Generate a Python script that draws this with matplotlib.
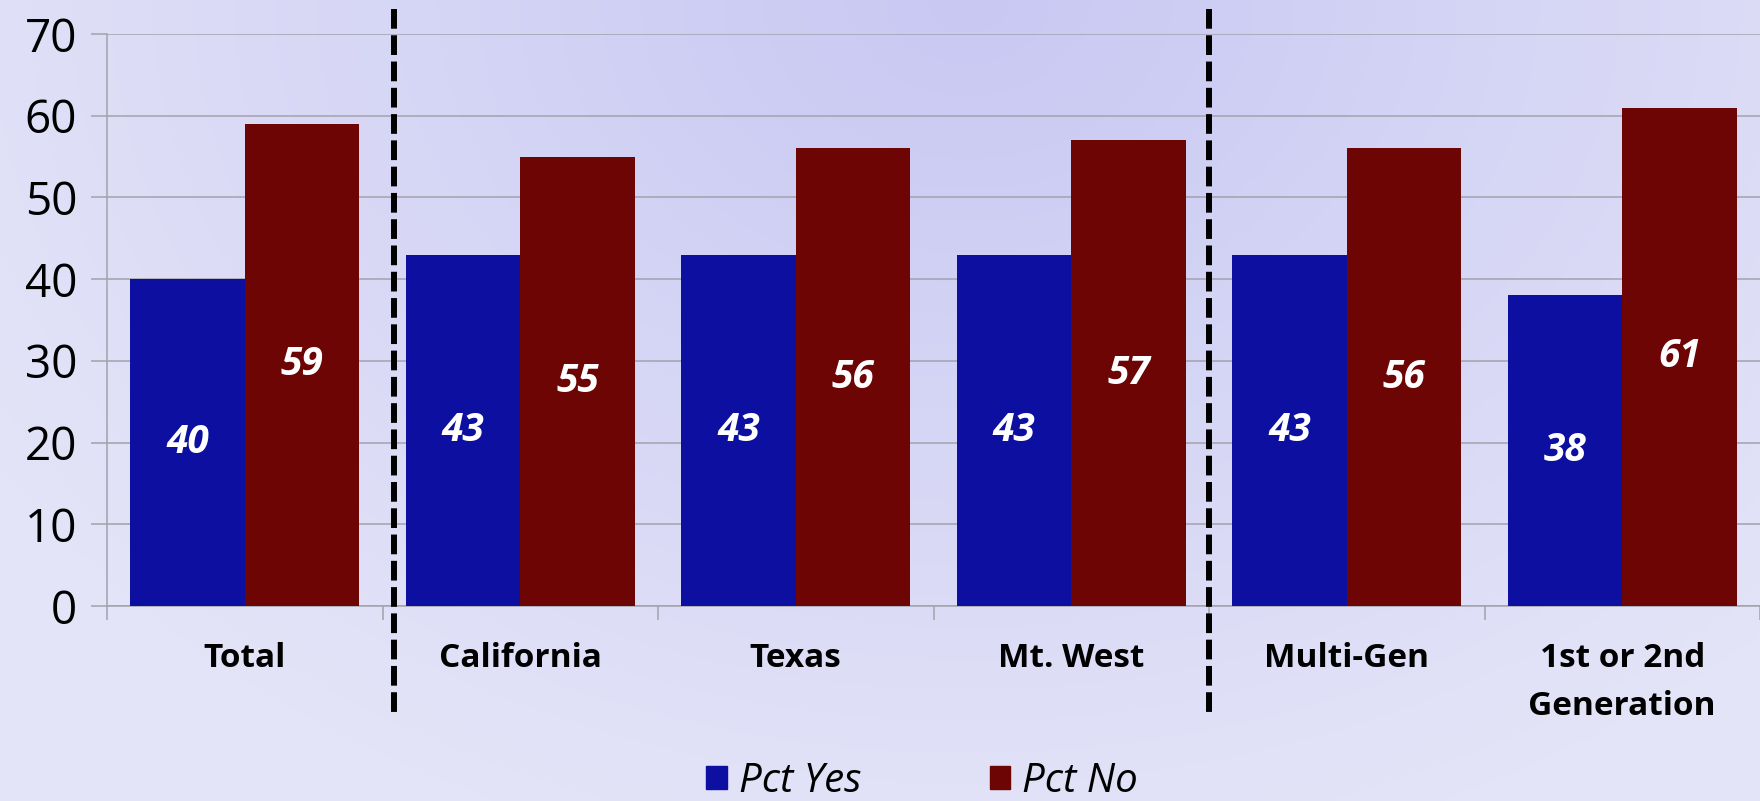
import numpy as np
import matplotlib
matplotlib.use("Agg")
import matplotlib.pyplot as plt
from matplotlib.patches import Patch

categories = ["Total", "California", "Texas", "Mt. West", "Multi-Gen", "1st or 2nd\nGeneration"]
pct_yes = [40, 43, 43, 43, 43, 38]
pct_no = [59, 55, 56, 57, 56, 61]
series_names = ["Pct Yes", "Pct No"]
y_ticks = [0, 10, 20, 30, 40, 50, 60, 70]
divider_positions = [0.54, 3.5]

BLUE = "#0C0FA0"
RED = "#6E0505"
GRID = "#a2a2ac"

plt.rcParams['font.family'] = ['Open Sans', 'DejaVu Sans']

W_PX, H_PX = 1760, 801
fig = plt.figure(figsize=(W_PX / 100, H_PX / 100), dpi=100)

# background gradient
bg = fig.add_axes([0, 0, 1, 1], zorder=-10)
H, W = 200, 440
yy, xx = np.mgrid[0:1:H * 1j, 0:1:W * 1j]
d = np.sqrt(((xx - 0.55) / 0.65) ** 2 + ((yy - 0.0) / 1.1) ** 2)
d = np.clip(d, 0, 1)
c0 = np.array([200, 200, 243]) / 255
c1 = np.array([228, 228, 248]) / 255
img = c0[None, None, :] * (1 - d[..., None]) + c1[None, None, :] * d[..., None]
bg.imshow(img, aspect='auto', extent=[0, 1, 0, 1], origin='upper')
bg.axis('off')

left = 107 / W_PX
bottom = (H_PX - 606) / H_PX
height = (606 - 34) / H_PX
ax = fig.add_axes([left, bottom, 1 - left, height])
ax.patch.set_alpha(0)

x = np.arange(len(categories))
w = 0.416
b1 = ax.bar(x - w / 2, pct_yes, w, color=BLUE, zorder=3, label=series_names[0])
b2 = ax.bar(x + w / 2, pct_no, w, color=RED, zorder=3, label=series_names[1])
for bars in (b1, b2):
    ax.bar_label(bars, label_type='center', color='white', fontsize=28,
                 fontweight='bold', fontstyle='italic')

ax.set_xlim(-0.5, len(categories) - 0.5)
ax.set_ylim(0, 70)
ax.set_yticks(y_ticks)
ax.yaxis.grid(True, color=GRID, lw=1.1)
ax.set_axisbelow(True)

for s in ("top", "right"):
    ax.spines[s].set_visible(False)
for s in ("left", "bottom"):
    ax.spines[s].set_color(GRID)
    ax.spines[s].set_linewidth(1.1)

ax.tick_params(axis='y', length=11.5, width=1.1, color=GRID, labelsize=33, pad=10)
ax.set_xticks(x)
ax.set_xticklabels(categories, fontsize=24, fontweight='bold', linespacing=1.6)
ax.set_xticks(np.arange(-0.5, len(categories), 1.0), minor=True)
ax.tick_params(axis='x', which='major', length=0, pad=26)
ax.tick_params(axis='x', which='minor', length=10, width=1.1, color=GRID)

for dp in divider_positions:
    ax.plot([dp, dp], [73.0, -13.7], color='black', lw=4.3, dashes=(3.3, 1.1),
            dash_capstyle='butt', clip_on=False, zorder=5)

handles = [Patch(color=BLUE), Patch(color=RED)]
fig.legend(handles, series_names, loc='center', bbox_to_anchor=(0.524, 0.024), ncol=2,
           frameon=False, prop={'size': 29, 'style': 'italic'}, handlelength=0.5,
           handleheight=0.5, columnspacing=3.2, handletextpad=0.3)

fig.savefig("out.png", dpi=100)
